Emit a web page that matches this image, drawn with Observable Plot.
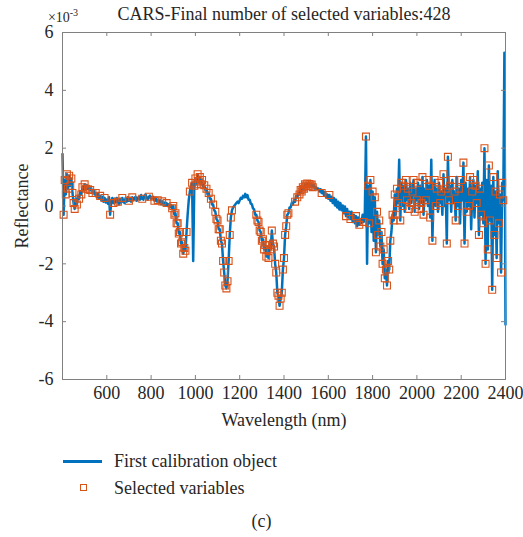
<!DOCTYPE html>
<html><head><meta charset="utf-8">
<script src="https://cdn.jsdelivr.net/npm/d3@7"></script>
<script src="https://cdn.jsdelivr.net/npm/@observablehq/plot@0.6"></script>
<style>
body{margin:0;background:#fff;font-family:"Liberation Serif","Times New Roman",Tinos,"DejaVu Serif",serif;color:#262626}
#wrap{position:relative;width:523px;height:537px;overflow:hidden}
#wrap svg{position:absolute;left:0;top:0}
.lg{position:absolute;font-size:18px;line-height:22px;white-space:nowrap}
</style></head><body><div id="wrap"></div>
<script>
// Spectrum: reflectance (×10^-3) sampled every 5 nm from 400 nm
const startWl = 400, stepWl = 5;
const reflectance = [
  1.8,-0.3,0.9,0.4,1.1,0.6,1.05,0.7,0.95,0.45,0.1,-0.1,0.25,0.05,0.35,0.25,0.5,0.4,0.65,0.55,
  0.75,0.6,0.72,0.58,0.68,0.55,0.6,0.45,0.55,0.4,0.45,0.3,0.42,0.25,0.35,0.2,0.32,0.15,0.28,0.12,
  0.22,0.08,0.3,-0.3,0.12,0.28,0.1,0.25,0.12,0.28,0.15,0.05,0.25,0.12,0.28,0.15,0.1,0.28,0.15,0.3,
  0.18,0.28,0.15,0.3,0.2,0.28,0.32,0.18,0.28,0.32,0.22,0.38,0.25,0.22,0.35,0.4,0.28,0.22,0.32,0.36,
  0.25,0.3,0.32,0.18,0.28,0.16,0.2,0.12,0.2,0.06,0.16,0.05,0.12,0.02,0.1,0.0,0.06,-0.04,0.04,-0.08,
  0.0,-0.3,-0.25,-0.6,-0.6,-0.95,-0.9,-1.3,-1.25,-1.65,-1.45,-1.55,-0.9,-0.3,0.2,0.5,0.7,0.8,-1.9,0.7,
  0.95,0.75,1.1,0.85,1.0,0.75,0.9,0.65,0.72,0.55,0.6,0.4,0.45,0.25,0.25,0.05,0.05,-0.15,-0.2,-0.45,
  -0.5,-0.8,-0.8,-1.2,-1.3,-1.9,-2.3,-2.75,-2.85,-2.6,-1.9,-1.0,-0.4,-0.15,-0.05,0.0,0.05,0.1,0.15,0.1,
  0.2,0.28,0.25,0.35,0.3,0.42,0.3,0.38,0.22,0.22,0.08,0.06,-0.08,-0.12,-0.3,-0.3,-0.5,-0.55,-0.85,-0.9,
  -1.2,-1.15,-1.5,-1.35,-1.75,-1.5,-1.8,-1.35,-1.5,-0.85,-1.3,-1.4,-2.0,-2.3,-3.0,-3.1,-3.45,-3.2,-3.0,-2.2,
  -1.8,-1.0,-0.7,-0.3,-0.25,-0.05,-0.05,0.1,0.05,0.2,0.15,0.35,0.3,0.45,0.4,0.55,0.5,0.65,0.6,0.75,
  0.7,0.78,0.68,0.76,0.7,0.74,0.65,0.72,0.6,0.65,0.58,0.6,0.5,0.58,0.45,0.52,0.38,0.48,0.3,0.4,
  0.25,0.38,0.18,0.32,0.1,0.28,0.02,0.22,-0.05,0.15,-0.12,0.1,-0.15,0.02,-0.25,-0.02,-0.35,-0.1,-0.4,-0.2,
  -0.45,-0.2,-0.55,-0.3,-0.6,-0.35,-0.7,-0.4,-0.65,-0.45,-0.6,-0.3,-0.55,-0.2,2.4,-2.0,0.7,-0.6,0.9,-0.9,
  0.5,-1.2,0.3,-1.6,-0.2,-1.0,-0.5,-1.4,-0.9,-2.0,-1.5,-2.5,-2.2,-2.75,-1.9,-2.2,-1.2,-0.9,-0.3,-0.5,
  0.4,-0.3,0.6,0.1,1.6,-0.5,0.8,0.0,0.7,-0.2,0.9,0.2,0.6,-0.1,0.8,0.1,0.5,0.9,-0.2,0.6,
  0.2,0.8,-0.1,0.7,0.1,1.0,-0.3,0.6,0.2,0.9,0.0,0.7,-0.4,1.6,-1.2,0.5,0.9,0.0,0.6,-0.2,
  0.8,0.1,0.5,-0.3,1.1,0.0,0.6,-1.3,1.7,0.2,0.7,-0.2,0.9,0.1,0.5,-0.5,1.0,0.0,0.6,-0.6,
  0.9,0.2,1.5,-1.3,0.8,-0.2,0.6,0.0,1.0,-0.8,0.5,0.9,-0.4,0.7,0.1,1.2,-1.0,0.6,-0.3,0.8,
  -0.6,2.0,-2.0,0.9,-1.5,1.4,-0.5,0.7,-2.9,1.0,-1.0,0.5,-1.8,1.2,-0.6,0.4,-2.3,0.8,0.2,5.3,
  -4.1
];
// Wavelengths (nm) of the variables selected by CARS
const selectedWl = [
  405,410,415,420,425,430,435,440,445,450,455,
  465,475,485,490,500,505,515,525,535,550,570,590,
  615,630,650,670,700,715,760,790,815,830,850,870,
  895,900,905,910,915,920,925,930,935,940,945,950,955,960,975,985,995,1000,
  1005,1010,1015,1020,1025,1030,1040,1050,1060,1070,1080,1090,1095,1100,1105,1110,1115,1120,1125,1130,1135,1140,1145,1150,1155,1160,1165,
  1275,1280,1285,1290,1295,1300,1305,1310,1315,1320,1325,1330,1335,1340,1345,1350,1355,1360,1365,1370,1375,1380,1385,1390,1395,1400,1405,1410,1415,1420,
  1450,1460,1470,1475,1480,1485,1490,1495,1500,1505,1510,1515,1520,1525,1530,
  1570,1605,1680,1700,1725,1740,1760,1770,
  1780,1785,1790,1800,1810,1815,1820,1825,1830,1835,1840,1845,1850,1855,1860,1865,1870,1875,1880,1890,1895,
  1900,1905,1910,1915,1925,1930,1935,1940,1950,1955,1960,1965,1975,1980,1985,1990,
  2000,2005,2010,2020,2025,2030,2040,2045,2055,2060,2070,2080,2085,2090,
  2100,2105,2110,2120,2130,2135,2140,2145,2150,2160,2170,2175,2185,2190,
  2200,2210,2215,2225,2235,2240,2250,2255,2265,2270,2280,2285,2290,
  2300,2305,2310,2320,2325,2330,2340,2345,2350,2355,2360,2370,2375,2380,2385,2390
];
const xTicks = [600,800,1000,1200,1400,1600,1800,2000,2200,2400];
const yTicks = [-6,-4,-2,0,2,4,6];
const titleText = "CARS-Final number of selected variables:428";
const xLabel = "Wavelength (nm)";
const yLabel = "Reflectance";
const legendLabels = ["First calibration object","Selected variables"];
const captionText = "(c)";

const spectrum = reflectance.map((v,i)=>({wl:startWl+i*stepWl, r:v}));
const byWl = new Map(spectrum.map(d=>[d.wl,d.r]));
const selected = selectedWl.map(w=>({wl:w, r:byWl.get(w)}));

const W=523, H=432, mt=32, mb=53, ml=62, mr=18;
const fh=H-mt-mb, fw=W-ml-mr;
const axisColor="#808080", textColor="#262626";
const blue="#0072BD", orange="#D95319";
const FONT='"Liberation Serif","Times New Roman",Tinos,"DejaVu Serif",serif';

const plot = Plot.plot({
  width:W, height:H, marginTop:mt, marginBottom:mb, marginLeft:ml, marginRight:mr,
  style:{fontFamily:FONT, fontSize:"18px", color:textColor, background:"white", overflow:"visible"},
  x:{domain:[400,2400]},
  y:{domain:[-6,6]},
  marks:[
    Plot.axisX({ticks:xTicks, tickSize:0, tickPadding:7, tickFormat:d=>String(d), label:null, fontSize:18}),
    Plot.axisY({ticks:yTicks, tickSize:0, tickPadding:9, tickFormat:d=>String(d), label:null, fontSize:18}),
    Plot.line(spectrum,{x:"wl", y:"r", stroke:blue, strokeWidth:2.5}),
    Plot.dot(selected,{x:"wl", y:"r", symbol:"square", r:3.9, stroke:orange, strokeWidth:1.1, fill:"none"}),
    Plot.tickX(xTicks,{x:d=>d, insetTop:fh-4, stroke:axisColor}),
    Plot.tickX(xTicks,{x:d=>d, insetBottom:fh-4, stroke:axisColor}),
    Plot.tickY(yTicks,{y:d=>d, insetRight:fw-4, stroke:axisColor}),
    Plot.tickY(yTicks,{y:d=>d, insetLeft:fw-4, stroke:axisColor}),
    Plot.frame({stroke:axisColor}),
    Plot.text([xLabel],{text:d=>d, frameAnchor:"bottom", dy:41, lineAnchor:"middle", textAnchor:"middle", fontSize:18, fill:textColor}),
    Plot.text([yLabel],{text:d=>d, frameAnchor:"left", dx:-40, rotate:-90, lineAnchor:"middle", textAnchor:"middle", fontSize:18, fill:textColor}),
    Plot.text([titleText],{text:d=>d, frameAnchor:"top", dy:-18, lineAnchor:"middle", textAnchor:"middle", fontSize:18, fill:textColor})
  ]
});
const svg = d3.select(plot);
const sc = svg.append("text").attr("x",63).attr("y",22).attr("font-size",14).attr("fill",textColor)
  .attr("font-family",FONT);
sc.append("tspan").text("×10");
sc.append("tspan").attr("font-size",10).attr("dy",-6).text("-3");

const wrap = document.getElementById("wrap");
wrap.appendChild(plot);
function add(txt, style){const d=document.createElement("div");d.className="lg";d.style.cssText=style;d.textContent=txt;wrap.appendChild(d);return d;}
const ln=document.createElement("div");ln.style.cssText=`position:absolute;left:63px;top:459.5px;width:39px;height:3px;background:${blue}`;wrap.appendChild(ln);
const sq=document.createElement("div");sq.style.cssText=`position:absolute;left:80px;top:484px;width:5px;height:5px;border:1px solid ${orange}`;wrap.appendChild(sq);
add(legendLabels[0],"left:114px;top:450px");
add(legendLabels[1],"left:114px;top:477px");
add(captionText,"left:0;width:523px;text-align:center;top:510px");
</script></body></html>
